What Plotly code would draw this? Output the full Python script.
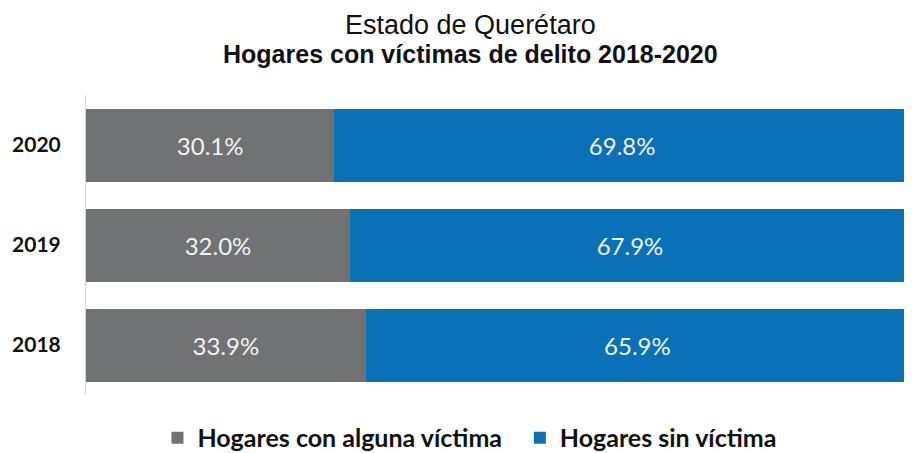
import plotly.graph_objects as go

years = ['2018', '2019', '2020']
con_victima = [33.9, 32.0, 30.1]
sin_victima = [65.9, 67.9, 69.8]

gray = '#707274'
blue = '#0a70b8'
label_font = 'Lato, "Open Sans", sans-serif'
title_font = '"Liberation Sans", Arial, sans-serif'

# page body adds an 8px margin, so the figure is laid out 8px up/left
top, bottom, plot_h = 87, 66, 300

fig = go.Figure()
fig.add_trace(go.Bar(y=years, x=con_victima, orientation='h',
                     name='<b>Hogares con alguna víctima</b>&nbsp;&nbsp;',
                     marker=dict(color=gray, line=dict(width=0)),
                     text=['%.1f%%' % v for v in con_victima],
                     textposition='inside', insidetextanchor='middle',
                     textfont=dict(color='#f2f2f2', size=24, family=label_font)))
fig.add_trace(go.Bar(y=years, x=sin_victima, orientation='h',
                     name='<b>Hogares sin víctima</b>',
                     marker=dict(color=blue, line=dict(width=0)),
                     text=['%.1f%%' % v for v in sin_victima],
                     textposition='inside', insidetextanchor='middle',
                     textfont=dict(color='#f2f2f2', size=24, family=label_font)))

# two-line title as annotations so the spacing can follow the reference
fig.add_annotation(text='Estado de Querétaro', xref='paper', yref='paper',
                   x=0.467, y=1 + (top - 17) / plot_h, xanchor='center', yanchor='middle',
                   showarrow=False, font=dict(family=title_font, size=27, color='#111111'))
fig.add_annotation(text='<b>Hogares con víctimas de delito 2018-2020</b>', xref='paper', yref='paper',
                   x=0.467, y=1 + (top - 46) / plot_h, xanchor='center', yanchor='middle',
                   showarrow=False, font=dict(family=title_font, size=25, color='#111111'))

fig.update_layout(
    barmode='stack',
    bargap=0.27,
    width=912, height=453,
    margin=dict(l=78, r=10, t=top, b=bottom, autoexpand=False),
    plot_bgcolor='white', paper_bgcolor='white',
    legend=dict(orientation='h', x=0.466, xanchor='center', y=-0.143, yanchor='middle',
                font=dict(family=label_font, size=25, color='#111111'),
                traceorder='normal', itemwidth=30),
    showlegend=True,
    uniformtext=dict(mode='show', minsize=10),
)
fig.update_xaxes(range=[0, 99.9], visible=False, showgrid=False)
fig.update_yaxes(showline=True, linecolor='#d9d9d9', linewidth=1, ticks='',
                 automargin=False,
                 tickfont=dict(family=label_font, size=21, color='#111111'),
                 ticklabelstandoff=20,
                 tickprefix='<b>', ticksuffix='</b>')

fig.write_html("out.html")
